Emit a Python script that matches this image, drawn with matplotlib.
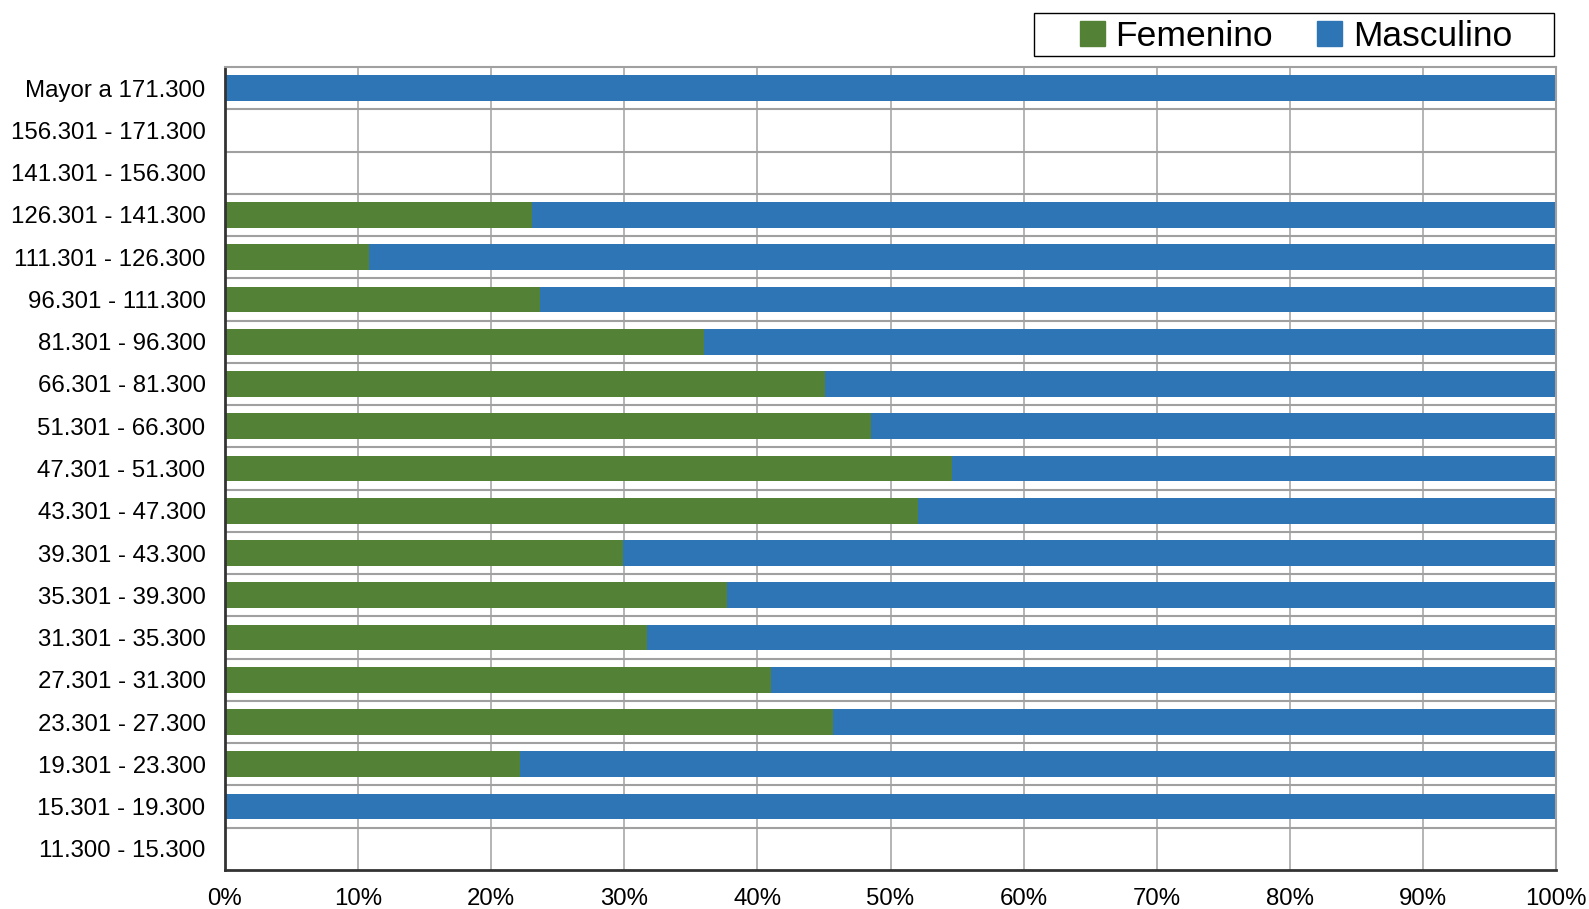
import matplotlib
matplotlib.use("Agg")
import matplotlib.pyplot as plt
import numpy as np
from matplotlib.patches import Patch, Rectangle
from matplotlib.ticker import FixedLocator, PercentFormatter

plt.rcParams["font.family"] = ["Liberation Sans", "DejaVu Sans"]

# income ranges, bottom row first
labels = [
    "11.300 - 15.300", "15.301 - 19.300", "19.301 - 23.300", "23.301 - 27.300",
    "27.301 - 31.300", "31.301 - 35.300", "35.301 - 39.300", "39.301 - 43.300",
    "43.301 - 47.300", "47.301 - 51.300", "51.301 - 66.300", "66.301 - 81.300",
    "81.301 - 96.300", "96.301 - 111.300", "111.301 - 126.300", "126.301 - 141.300",
    "141.301 - 156.300", "156.301 - 171.300", "Mayor a 171.300",
]
femenino = [0, 0, 22.2, 45.7, 41.0, 31.7, 37.7, 29.9, 52.1, 54.6,
            48.5, 45.1, 36.0, 23.7, 10.8, 23.1, 0, 0, 0]
masculino = [0, 100, 77.8, 54.3, 59.0, 68.3, 62.3, 70.1, 47.9, 45.4,
             51.5, 54.9, 64.0, 76.3, 89.2, 76.9, 0, 0, 100]

GREEN = "#538135"
BLUE = "#2E75B6"
W, H = 1589, 909

fig = plt.figure(figsize=(W / 100, H / 100), dpi=100)
ax = fig.add_axes([225 / W, 1 - 870 / H, (1556 - 225) / W, (870 - 67) / H])

y = np.arange(len(labels))
fem = np.array(femenino)
ax.barh(y, fem, height=0.61, color=GREEN, zorder=2)
ax.barh(y, masculino, left=fem, height=0.61, color=BLUE, zorder=2)

ax.set_xlim(0, 100)
ax.set_ylim(-0.5, len(labels) - 0.5)
ax.set_yticks(y)
ax.set_yticklabels(labels)
ax.yaxis.set_minor_locator(FixedLocator(y[:-1] + 0.5))
ax.set_xticks(np.arange(0, 101, 10))
ax.xaxis.set_major_formatter(PercentFormatter(decimals=0))

ax.set_axisbelow(True)
ax.grid(axis="x", which="major", color="#a0a0a0", lw=1.1)
ax.grid(axis="y", which="minor", color="#a0a0a0", lw=1.5)
ax.tick_params(axis="both", which="both", length=0, labelsize=17.3)
ax.tick_params(axis="x", pad=13)
ax.tick_params(axis="y", pad=14)

for side in ("left", "bottom"):
    ax.spines[side].set_color("#333333")
    ax.spines[side].set_linewidth(2)
for side in ("top", "right"):
    ax.spines[side].set_color("#a0a0a0")
    ax.spines[side].set_linewidth(1.5)

# legend box drawn separately so its padding can match the reference
fig.patches.append(Rectangle((1034 / W, 1 - 56 / H), 520 / W, 43 / H,
                             transform=fig.transFigure, fill=False,
                             edgecolor="black", linewidth=1))
handles = [Patch(color=GREEN, label="Femenino"), Patch(color=BLUE, label="Masculino")]
fig.legend(handles=handles, loc="center", bbox_to_anchor=(1296 / W, 1 - 36 / H),
           ncol=2, fontsize=25.5, frameon=False,
           handlelength=0.7, handleheight=0.7, handletextpad=0.3,
           columnspacing=1.25, borderpad=0, borderaxespad=0)

fig.savefig("out.png", dpi=100)
